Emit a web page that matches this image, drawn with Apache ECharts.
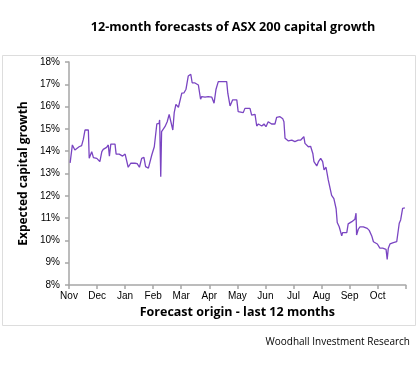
<!DOCTYPE html>
<html>
<head>
<meta charset="utf-8">
<script src="https://cdn.jsdelivr.net/npm/echarts@6/dist/echarts.min.js"></script>
<style>html,body{margin:0;padding:0;background:#fff;}#c{width:419px;height:372px;}</style>
</head>
<body>
<div id="c"></div>
<script>
// x = months since 1 Nov (0 = Nov, 12 = end of Oct)
var monthLabels = ['Nov','Dec','Jan','Feb','Mar','Apr','May','Jun','Jul','Aug','Sep','Oct'];
var yTicks = [8, 9, 10, 11, 12, 13, 14, 15, 16, 17, 18];
var monthOffset = [0.04,0.12,0.21,0.27,0.36,0.45,0.49,0.51,0.57,0.69,0.72,0.81,0.87,0.99,1.10,1.17,1.22,1.34,1.40,1.44,1.49,1.64,1.68,1.79,1.91,2.00,2.06,2.11,2.20,2.35,2.43,2.51,2.59,2.67,2.73,2.83,2.89,2.95,3.04,3.13,3.21,3.23,3.27,3.30,3.42,3.50,3.57,3.64,3.70,3.75,3.81,3.90,3.96,4.02,4.10,4.17,4.25,4.34,4.39,4.49,4.61,4.69,4.73,4.85,4.96,5.09,5.17,5.24,5.32,5.62,5.66,5.74,5.83,5.98,6.03,6.09,6.21,6.27,6.45,6.51,6.63,6.69,6.75,6.87,6.95,7.02,7.10,7.22,7.34,7.40,7.52,7.62,7.66,7.70,7.82,7.94,8.05,8.17,8.26,8.29,8.37,8.41,8.47,8.53,8.61,8.69,8.73,8.83,8.89,8.97,9.04,9.09,9.16,9.24,9.30,9.36,9.44,9.52,9.56,9.63,9.72,9.75,9.90,9.95,10.08,10.19,10.23,10.25,10.31,10.37,10.49,10.63,10.70,10.79,10.85,10.91,10.99,11.08,11.18,11.23,11.30,11.34,11.38,11.44,11.56,11.68,11.74,11.77,11.82,11.89,11.97];
var growth = [13.48,14.28,14.05,13.98,14.2,14.25,14.2,14.53,14.95,14.95,13.68,13.98,13.71,13.68,13.53,13.98,14.08,14.17,14.28,13.78,14.32,14.32,13.87,13.87,13.78,13.87,13.9,13.28,13.46,13.46,13.44,13.28,13.68,13.72,13.31,13.24,13.28,13.83,14.2,15.22,15.25,15.4,12.86,14.88,15.1,15.32,15.65,15.7,14.95,15.73,16.1,15.97,16.0,16.6,16.62,16.78,17.37,17.45,17.07,17.06,16.97,16.33,16.45,16.42,16.45,16.42,16.15,16.78,17.12,17.12,16.6,16.03,16.3,16.3,15.77,15.8,15.73,15.92,15.92,15.62,15.65,15.13,15.22,15.13,15.22,15.1,15.32,15.22,15.22,15.52,15.55,15.45,15.32,14.58,14.46,14.5,14.43,14.5,14.5,14.58,14.65,14.35,14.37,14.2,14.22,13.9,13.53,13.34,13.53,13.68,13.53,13.16,13.28,12.71,12.63,12.02,11.87,11.42,10.8,10.61,10.2,10.35,10.35,10.74,10.84,10.95,11.22,10.24,10.5,10.61,10.61,10.54,10.45,10.2,9.94,9.91,9.84,9.65,9.65,9.72,9.6,9.15,9.65,9.84,9.9,9.94,9.94,10.77,10.92,11.44,11.46];

var seriesData = monthOffset.map(function (m, i) { return [m, growth[i]]; });

var chart = echarts.init(document.getElementById('c'), null, {renderer: 'canvas'});
chart.setOption({
  animation: false,
  backgroundColor: '#fff',
  title: {
    text: '12-month forecasts of ASX 200 capital growth',
    left: 228, top: 16, textAlign: 'center',
    textStyle: {fontFamily: 'Open Sans', fontWeight: 'bold', fontSize: 12.6, color: '#000'}
  },
  graphic: [
    {type: 'rect', shape: {x: 2.5, y: 55.5, width: 413, height: 270}, style: {fill: 'none', stroke: '#dddddd', lineWidth: 1}, z: -1},
    {type: 'text', right: 9, top: 337, style: {text: 'Woodhall Investment Research', fontFamily: 'Open Sans', fontSize: 10, fill: '#000'}}
  ],
  grid: {left: 69, right: 13.3, top: 62, bottom: 87, containLabel: false},
  xAxis: {
    type: 'value', min: 0, max: 12, interval: 1,
    name: 'Forecast origin - last 12 months', nameLocation: 'middle', nameGap: 21,
    nameTextStyle: {fontFamily: 'Open Sans', fontWeight: 'bold', fontSize: 12.5, color: '#000'},
    axisLine: {show: true, lineStyle: {color: '#a6a6a6', width: 1.5}},
    axisTick: {show: true, length: 4, lineStyle: {color: '#a6a6a6', width: 1.5}},
    splitLine: {show: false},
    axisLabel: {
      margin: 6, fontFamily: 'Liberation Sans', fontSize: 10, color: '#000',
      formatter: function (v) { return monthLabels[Math.round(v)] || ''; }
    }
  },
  yAxis: {
    type: 'value', min: yTicks[0], max: yTicks[yTicks.length - 1], interval: 1,
    name: 'Expected capital growth', nameLocation: 'middle', nameGap: 36,
    nameTextStyle: {fontFamily: 'Open Sans', fontWeight: 'bold', fontSize: 12, color: '#000'},
    axisLine: {show: true, lineStyle: {color: '#a6a6a6', width: 1.5}},
    axisTick: {show: true, length: 4, lineStyle: {color: '#a6a6a6', width: 1.5}},
    splitLine: {show: false},
    axisLabel: {margin: 9, fontFamily: 'Liberation Sans', fontSize: 10, color: '#000', formatter: '{value}%'}
  },
  series: [{
    type: 'line', data: seriesData, showSymbol: false, symbol: 'none',
    lineStyle: {color: '#7a45c2', width: 1.3}
  }]
});
</script>
</body>
</html>
